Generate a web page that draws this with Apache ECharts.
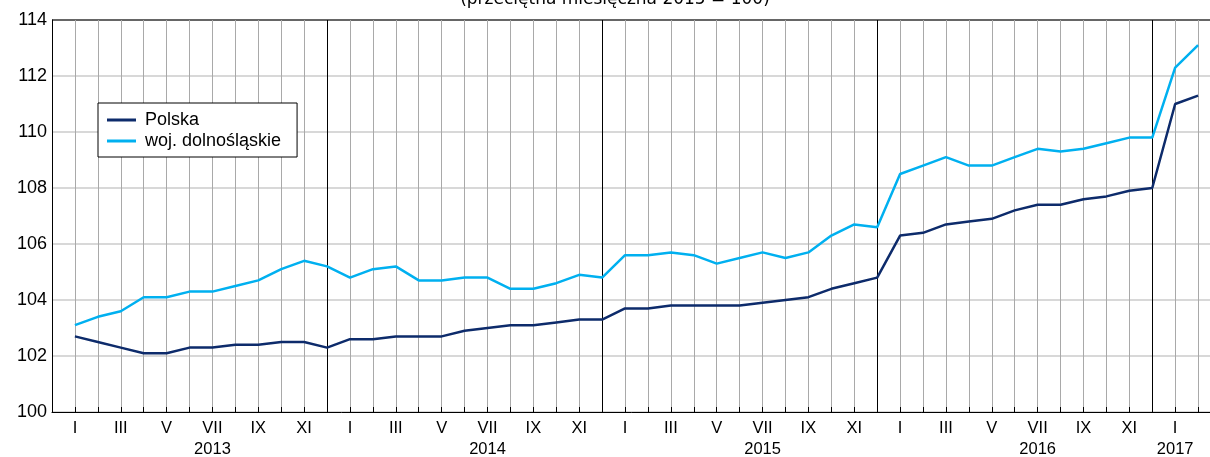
<!DOCTYPE html>
<html>
<head>
<meta charset="utf-8">
<script src="https://cdn.jsdelivr.net/npm/echarts@6/dist/echarts.min.js"></script>
<style>html,body{margin:0;padding:0;background:#fff}#c{width:1210px;height:457px}</style>
</head>
<body>
<div id="c"></div>
<script>
// Month labels (roman numerals, only odd months shown)
const monthNames = ['I','II','III','IV','V','VI','VII','VIII','IX','X','XI','XII'];
const monthTickLabels = ['I','','III','','V','','VII','','IX','','XI',''];
const years = [2013, 2014, 2015, 2016, 2017];
// month under which the year label is printed
const yearLabelMonth = {2013:'VII', 2014:'VII', 2015:'VII', 2016:'VII', 2017:'I'};

// Polska (przeciętna miesięczna 2015 = 100), I 2013 – II 2017
const polska = [
  102.7,102.5,102.3,102.1,102.1,102.3,102.3,102.4,102.4,102.5,102.5,102.3,
  102.6,102.6,102.7,102.7,102.7,102.9,103.0,103.1,103.1,103.2,103.3,103.3,
  103.7,103.7,103.8,103.8,103.8,103.8,103.9,104.0,104.1,104.4,104.6,104.8,
  106.3,106.4,106.7,106.8,106.9,107.2,107.4,107.4,107.6,107.7,107.9,108.0,
  111.0,111.3
];
// woj. dolnośląskie
const dolnoslaskie = [
  103.1,103.4,103.6,104.1,104.1,104.3,104.3,104.5,104.7,105.1,105.4,105.2,
  104.8,105.1,105.2,104.7,104.7,104.8,104.8,104.4,104.4,104.6,104.9,104.8,
  105.6,105.6,105.7,105.6,105.3,105.5,105.7,105.5,105.7,106.3,106.7,106.6,
  108.5,108.8,109.1,108.8,108.8,109.1,109.4,109.3,109.4,109.6,109.8,109.8,
  112.3,113.1
];
const yTicks = {min:100, max:114, interval:2};

// Categories: XII 2012 (axis start), I 2013 ... III 2017 (axis end)
const categories = ['XII 2012'];
years.forEach(y => {
  const n = (y === 2017) ? 3 : 12;
  for (let m = 0; m < n; m++) categories.push(monthNames[m] + ' ' + y);
});
const pad = v => [null].concat(v);

const chart = echarts.init(document.getElementById('c'), null, {renderer:'canvas'});
const gray = '#a9a9a9';
const hgray = '#cbcbcb';
chart.setOption({
  animation: false,
  textStyle: {fontFamily: 'Liberation Sans, Arial, sans-serif'},
  graphic: [{
    type: 'text', x: 615, y: 8, z: 100,
    style: {text: '(przeciętna miesięczna 2015 = 100)', font: '17px "DejaVu Sans"', fill: '#000',
      align: 'center', verticalAlign: 'bottom'}
  }],
  grid: {left: 52, top: 20, width: 1169, height: 392, containLabel: false, outerBoundsMode: 'none'},
  legend: {
    orient: 'vertical', left: 98, top: 103,
    padding: [8, 16, 7, 9], itemGap: 3,
    backgroundColor: '#fff', borderColor: '#000', borderWidth: 1,
    icon: 'rect', itemWidth: 29, itemHeight: 3,
    textStyle: {fontSize: 18, color: '#000', fontFamily: 'Liberation Sans, Arial', padding: [0,0,0,4]},
    data: ['Polska', 'woj. dolnośląskie']
  },
  xAxis: {
    type: 'category', data: categories, boundaryGap: false,
    axisLine: {lineStyle: {color: '#000', width: 1}},
    axisTick: {show: true, inside: true, length: 5, interval: 0, lineStyle: {color: '#000'}},
    axisLabel: {
      interval: 0, fontSize: 16.5, color: '#000', margin: 6, lineHeight: 21,
      formatter: (val, i) => {
        if (i < 1 || i > polska.length) return '';
        const [m, y] = val.split(' ');
        const idx = monthNames.indexOf(m);
        let s = monthTickLabels[idx];
        if (yearLabelMonth[y] === m) s += '\n' + y;
        return s;
      }
    },
    splitLine: {show: true, interval: 0, lineStyle: {color: ['#000'].concat(Array(11).fill(gray)), width: 1}}
  },
  yAxis: {
    type: 'value', min: yTicks.min, max: yTicks.max, interval: yTicks.interval,
    axisLine: {show: true, lineStyle: {color: '#000'}},
    axisTick: {show: false},
    axisLabel: {fontSize: 18, color: '#000', margin: 5},
    splitLine: {lineStyle: {color: [hgray,hgray,hgray,hgray,hgray,hgray,hgray,'#333'], width: 1.5}}
  },
  series: [
    {name: 'Polska', type: 'line', data: pad(polska), symbol: 'none', z: 3,
      itemStyle: {color: '#0d2b6b'}, lineStyle: {color: '#0d2b6b', width: 2.5}},
    {name: 'woj. dolnośląskie', type: 'line', data: pad(dolnoslaskie), symbol: 'none', z: 4,
      itemStyle: {color: '#00b0f0'}, lineStyle: {color: '#00b0f0', width: 2.5}}
  ]
});
</script>
</body>
</html>
